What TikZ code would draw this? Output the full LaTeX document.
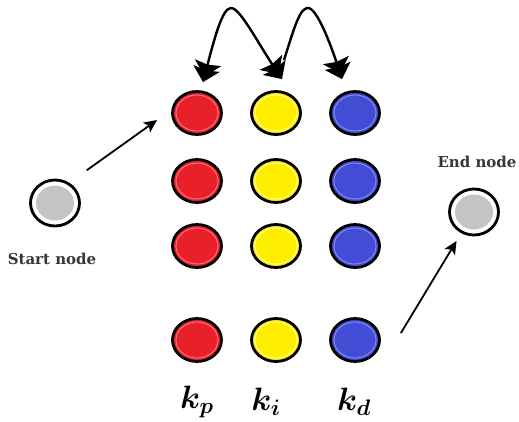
\documentclass[tikz,border=0pt]{standalone}
\usepackage{fontspec}
\usepackage{bm}
\setmainfont{DejaVu Serif}
\usetikzlibrary{shapes.geometric,arrows.meta}

\definecolor{redfill}{RGB}{232,32,42}
\definecolor{redring}{RGB}{246,112,122}
\definecolor{yelfill}{RGB}{255,238,0}
\definecolor{yelring}{RGB}{255,250,160}
\definecolor{blufill}{RGB}{66,76,212}
\definecolor{bluring}{RGB}{128,140,240}
\definecolor{grayfill}{RGB}{196,196,196}
\definecolor{captext}{RGB}{55,55,55}

\tikzset{
  ball/.style={ellipse, draw=black, line width=2.8pt, minimum width=49pt,
    minimum height=43pt, inner sep=0pt},
  ringed/.style={path picture={\draw[#1, line width=1pt]
    (path picture bounding box.center) ellipse (21pt and 18pt);}},
  redball/.style={ball, fill=redfill, ringed=redring},
  yelball/.style={ball, fill=yelfill, ringed=yelring},
  bluball/.style={ball, fill=blufill, ringed=bluring},
  termball/.style={ellipse, draw=black, line width=2.8pt, fill=white,
    minimum width=49pt, minimum height=46pt, inner sep=0pt,
    path picture={\fill[grayfill] (path picture bounding box.center)
      ellipse (19pt and 17.5pt);}},
  caption/.style={font=\bfseries\fontsize{15}{17}\selectfont, text=captext,
    inner sep=0pt},
  gain/.style={font=\fontsize{24}{30}\selectfont, inner sep=0pt},
  link/.style={line width=1.8pt,
    -{Stealth[length=13pt,width=12pt,inset=3pt]}},
  chunk/.tip={Stealth[length=14pt,width=27pt,inset=2pt,sep=-8pt]
      Stealth[length=14pt,width=27pt,inset=2pt]},
  hop/.style={line width=2.4pt, -chunk},
  hopboth/.style={line width=2.4pt, chunk-chunk},
}

\begin{document}
\begin{tikzpicture}[x=1pt, y=-1pt]
  \fill[white] (0,0) rectangle (519,421);
  \useasboundingbox (0,0) rectangle (519,421);

  % gain candidates: one column per gain, one row per candidate value
  \foreach \r/\y in {1/113, 2/181, 3/246, 4/340} {
    \node[redball] (r\r) at (197,\y) {};
    \node[yelball] (y\r) at (276,\y) {};
    \node[bluball] (b\r) at (355,\y) {};
  }

  % start and end nodes
  \node[termball] (start) at (55,203) {};
  \node[caption] (startlab) at (52,259) {Start node};
  \node[termball] (end) at (474,212) {};
  \node[caption] (endlab) at (477,162) {End node};

  % gain labels
  \node[gain] (kp) at (197,402) {\scalebox{1.3}{$\bm{k_p}$}};
  \node[gain] (ki) at (266,402) {\scalebox{1.3}{$\bm{k_i}$}};
  \node[gain] (kd) at (354,402) {\scalebox{1.3}{$\bm{k_d}$}};

  % entry and exit links
  \draw[link] ([shift={(14pt,15pt)}]start.45) -- ([shift={(-14pt,-7pt)}]r1.west);
  \draw[link, shorten >=9pt] ([shift={(20pt,7pt)}]b4.east) -- (end);

  % hops between the gain columns
  \coordinate (hopA) at ([shift={(6pt,8pt)}]r1.north);
  \coordinate (hopB) at ([shift={(6pt,11pt)}]y1.north);
  \coordinate (hopC) at ([shift={(-13pt,11pt)}]b1.north);
  \draw[hopboth] (hopA) .. controls (214,40) and (222,8) .. (231,8)
    .. controls (240,8) and (256,40) .. (hopB);
  \draw[hop] ([shift={(2pt,19pt)}]hopB) .. controls (295,25) and (300,8) .. (308,8)
    .. controls (317,8) and (331,45) .. (hopC);
\end{tikzpicture}
\end{document}
